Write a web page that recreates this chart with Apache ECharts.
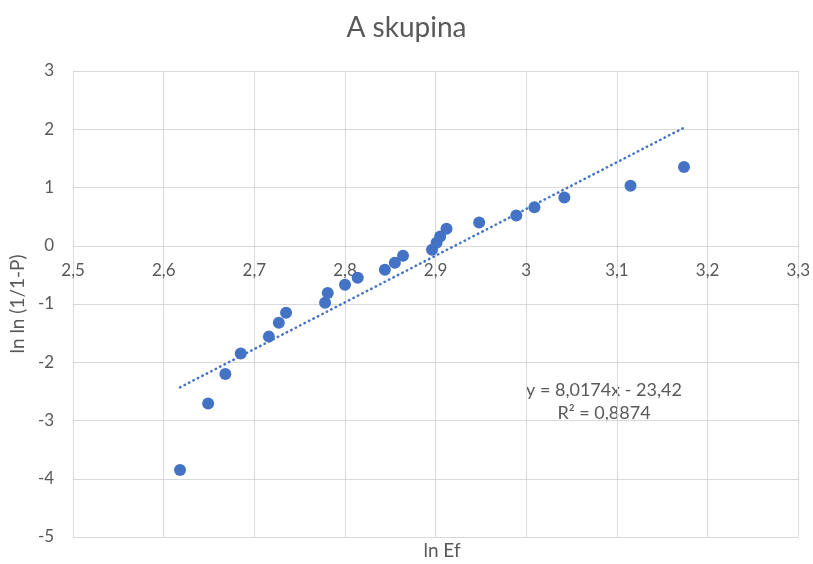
<!DOCTYPE html>
<html>
<head>
<meta charset="utf-8">
<script src="https://cdn.jsdelivr.net/npm/echarts@6/dist/echarts.min.js"></script>
<style>
  html, body { margin: 0; padding: 0; background: #fff; }
  #chart { width: 813px; height: 564px; }
</style>
</head>
<body>
<div id="chart"></div>
<script>
// data
const lnEf = [2.618, 2.649, 2.668, 2.685, 2.716, 2.727, 2.735, 2.778, 2.781, 2.800,
  2.814, 2.844, 2.855, 2.864, 2.896, 2.901, 2.905, 2.912, 2.948, 2.989,
  3.009, 3.042, 3.115, 3.174]
const lnlnP = [-3.85, -2.71, -2.20, -1.85, -1.56, -1.32, -1.15, -0.98, -0.81, -0.67,
  -0.55, -0.41, -0.29, -0.17, -0.07, 0.05, 0.16, 0.29, 0.40, 0.52,
  0.66, 0.83, 1.03, 1.35]
const trendSlope = 8.0174
const trendIntercept = -23.42
const rSquared = 0.8874

const xRange = [2.5, 3.3]
const yRange = [-5, 3]

const fmt = (v, d) => v.toFixed(d).replace('.', ',')

const points = lnEf.map((x, i) => [x, lnlnP[i]])
const xMin = Math.min(...lnEf)
const xMax = Math.max(...lnEf)
const trend = [xMin, xMax].map(x => [x, trendSlope * x + trendIntercept])

const textColor = '#595959'
const font = 'Lato, Open Sans, sans-serif'

const gridBox = { left: 73, top: 71, width: 726, height: 466 }
// x axis crosses at y = 0, as in Excel
const zeroOffset = gridBox.height * (0 - yRange[0]) / (yRange[1] - yRange[0])

const chart = echarts.init(document.getElementById('chart'))

const option = {
  animation: false,
  textStyle: { fontFamily: font },
  title: [
    {
      text: 'A skupina',
      left: 'center',
      top: 9,
      textStyle: { color: textColor, fontSize: 28, fontWeight: 'normal', fontFamily: font }
    },
    {
      text: 'ln Ef',
      left: 437,
      top: 536,
      textAlign: 'center',
      textStyle: { color: textColor, fontSize: 19, fontWeight: 'normal', fontFamily: font }
    }
  ],
  grid: gridBox,
  xAxis: {
    type: 'value',
    min: xRange[0],
    max: xRange[1],
    interval: 0.1,
    offset: -zeroOffset,
    axisLine: { onZero: false, lineStyle: { color: '#d9d9d9', width: 1 } },
    axisTick: { show: false },
    axisLabel: {
      color: textColor,
      fontSize: 17,
      margin: 16,
      formatter: v => String(Math.round(v * 10) / 10).replace('.', ',')
    },
    splitLine: { lineStyle: { color: '#d9d9d9' } }
  },
  yAxis: {
    type: 'value',
    min: yRange[0],
    max: yRange[1],
    interval: 1,
    name: 'ln ln (1/1-P)',
    nameLocation: 'middle',
    nameGap: 43,
    nameTextStyle: { color: textColor, fontSize: 19 },
    axisLine: { show: true, onZero: false, lineStyle: { color: '#d9d9d9' } },
    axisTick: { show: false },
    axisLabel: { color: textColor, fontSize: 17, margin: 19 },
    splitLine: { lineStyle: { color: '#d9d9d9' } }
  },
  series: [
    {
      type: 'line',
      data: trend,
      symbol: 'none',
      lineStyle: { color: '#4472C4', width: 2.5, type: [0.5, 4.5], cap: 'round' },
      z: 1
    },
    {
      type: 'scatter',
      data: points,
      symbolSize: 12,
      itemStyle: { color: '#4472C4', opacity: 1 },
      z: 2
    }
  ],
  graphic: [
    {
      type: 'text',
      x: 604,
      y: 379,
      style: {
        text: 'y = ' + fmt(trendSlope, 4) + 'x - ' + fmt(-trendIntercept, 2) + '\nR² = ' + fmt(rSquared, 4),
        fill: textColor,
        font: '18px ' + font,
        textAlign: 'center',
        lineHeight: 23
      }
    }
  ]
}

chart.setOption(option)
</script>
</body>
</html>
